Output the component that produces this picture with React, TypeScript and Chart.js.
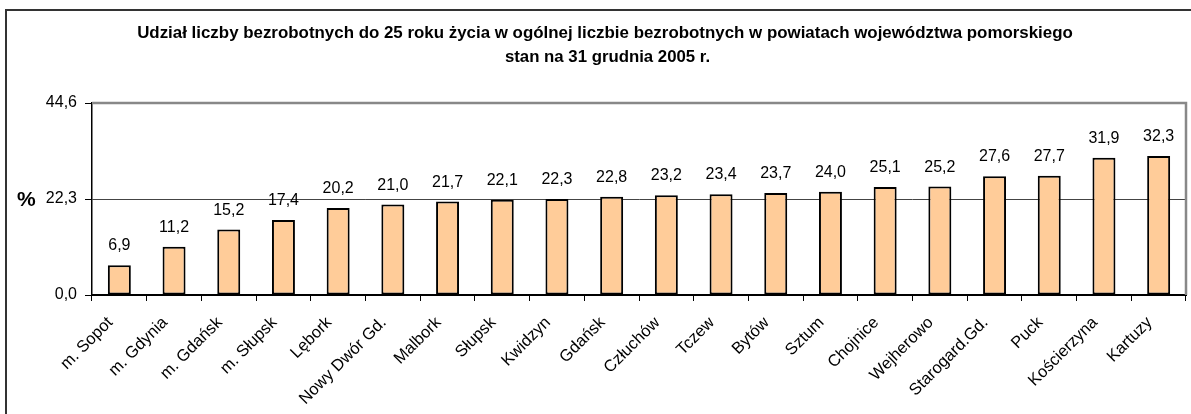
import React, { useEffect, useRef } from 'react';
import { Chart, registerables } from 'chart.js';

Chart.register(...registerables);

const categories = [
  'm. Sopot', 'm. Gdynia', 'm. Gdańsk', 'm. Słupsk', 'Lębork', 'Nowy Dwór Gd.', 'Malbork',
  'Słupsk', 'Kwidzyn', 'Gdańsk', 'Człuchów', 'Tczew', 'Bytów', 'Sztum', 'Chojnice',
  'Wejherowo', 'Starogard.Gd.', 'Puck', 'Kościerzyna', 'Kartuzy',
];
const values = [
  6.9, 11.2, 15.2, 17.4, 20.2, 21.0, 21.7, 22.1, 22.3, 22.8,
  23.2, 23.4, 23.7, 24.0, 25.1, 25.2, 27.6, 27.7, 31.9, 32.3,
];
const yTicks = [0, 22.3, 44.6];
const titleLines = [
  'Udział liczby bezrobotnych do 25 roku życia w ogólnej liczbie bezrobotnych w powiatach województwa pomorskiego',
  'stan na 31 grudnia 2005 r.',
];
const yUnit = '%';

const FONT = '"Liberation Sans", Arial, sans-serif';
const fmt = (v: number) => v.toFixed(1).replace('.', ',');

export default function App() {
  const ref = useRef<HTMLCanvasElement>(null);

  useEffect(() => {
    if (!ref.current) return;
    const decor = {
      id: 'decor',
      beforeDraw(chart: any) {
        const ctx = chart.ctx;
        ctx.save();
        ctx.fillStyle = '#fff';
        ctx.fillRect(0, 0, chart.width, chart.height);
        ctx.restore();
      },
      afterDraw(chart: any) {
        const ctx = chart.ctx;
        const a = chart.chartArea;
        ctx.save();
        // outer frame
        ctx.strokeStyle = '#333';
        ctx.lineWidth = 2;
        ctx.beginPath();
        ctx.moveTo(6, chart.height + 2);
        ctx.lineTo(6, 10);
        ctx.lineTo(chart.width + 2, 10);
        ctx.stroke();
        // plot area border (top, right)
        ctx.strokeStyle = '#888';
        ctx.lineWidth = 2.5;
        ctx.beginPath();
        ctx.moveTo(a.left, a.top);
        ctx.lineTo(a.right, a.top);
        ctx.lineTo(a.right, a.bottom);
        ctx.stroke();
        // title
        ctx.fillStyle = '#000';
        ctx.textAlign = 'center';
        ctx.textBaseline = 'alphabetic';
        ctx.font = `bold 16.9px ${FONT}`;
        ctx.fillText(titleLines[0], 605, 38);
        ctx.font = `bold 16.8px ${FONT}`;
        ctx.fillText(titleLines[1], 607.5, 61.5);
        // unit
        ctx.font = `bold 21px ${FONT}`;
        ctx.textAlign = 'left';
        ctx.fillText(yUnit, 17, 206);
        // data labels
        ctx.font = `16px ${FONT}`;
        ctx.textAlign = 'center';
        const meta = chart.getDatasetMeta(0);
        meta.data.forEach((bar: any, i: number) => {
          ctx.fillText(fmt(values[i]), bar.x, bar.y - 15);
        });
        ctx.restore();
      },
    };

    const chart = new Chart(ref.current, {
      type: 'bar',
      data: {
        labels: categories,
        datasets: [
          {
            data: values,
            backgroundColor: '#FFCC99',
            borderColor: '#000',
            borderWidth: 2,
            borderSkipped: false,
            barPercentage: 0.42,
            categoryPercentage: 1,
          },
        ],
      },
      options: {
        animation: false,
        responsive: false,
        devicePixelRatio: 1,
        layout: { padding: { top: 103, right: 5, left: 0, bottom: 0 } },
        plugins: {
          legend: { display: false },
          title: { display: false },
          tooltip: { enabled: false },
        },
        scales: {
          x: {
            type: 'category',
            grid: {
              offset: true,
              drawOnChartArea: false,
              tickLength: 6,
              tickColor: '#000',
              lineWidth: 1,
            },
            border: { color: '#000', width: 2 },
            ticks: {
              minRotation: 45,
              maxRotation: 45,
              autoSkip: false,
              padding: 12,
              labelOffset: -9,
              color: '#000',
              font: { family: FONT, size: 16.5 },
            },
            afterFit: (s: any) => {
              s.height = 119;
            },
          },
          y: {
            min: 0,
            max: 44.6,
            afterBuildTicks: (s: any) => {
              s.ticks = yTicks.map((v) => ({ value: v }));
            },
            grid: {
              color: (c: any) =>
                c.tick && Math.abs(c.tick.value - 22.3) < 0.01 ? '#444' : 'rgba(0,0,0,0)',
              tickColor: '#000',
              tickLength: 7,
              lineWidth: 1,
            },
            border: { color: '#000', width: 1.5 },
            ticks: {
              padding: 8,
              color: '#000',
              font: { family: FONT, size: 16 },
              callback: (v: any) => fmt(Number(v)),
            },
            afterFit: (s: any) => {
              s.width = 92;
            },
          },
        },
      },
      plugins: [decor],
    });
    return () => chart.destroy();
  }, []);

  return (
    <div style={{ position: 'fixed', left: 0, top: 0, width: 1191, height: 414, background: '#fff' }}>
      <canvas ref={ref} width={1191} height={414} style={{ width: 1191, height: 414, display: 'block' }} />
    </div>
  );
}
